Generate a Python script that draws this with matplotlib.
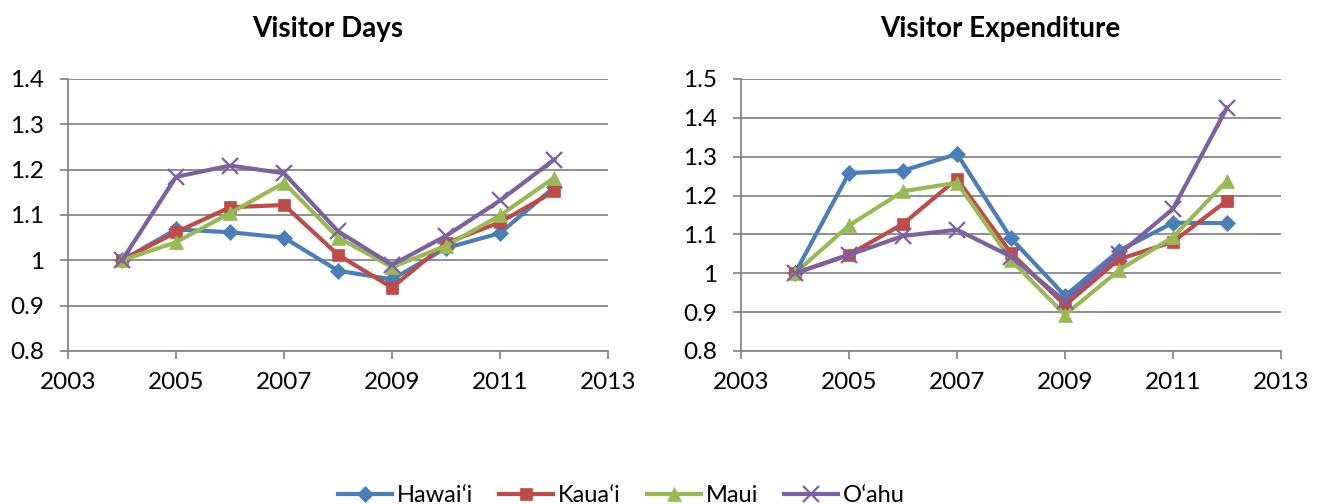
import matplotlib
matplotlib.use("Agg")
import matplotlib.pyplot as plt

plt.rcParams["font.family"] = ["Lato", "DejaVu Sans"]

# ── data ──────────────────────────────────────────────
years = [2004, 2005, 2006, 2007, 2008, 2009, 2010, 2011, 2012]
islands = ["Hawai\u02bbi", "Kaua\u02bbi", "Maui", "O\u02bbahu"]

days_hawaii = [1.0, 1.068, 1.062, 1.050, 0.977, 0.958, 1.027, 1.060, 1.161]
days_kauai  = [1.0, 1.062, 1.117, 1.122, 1.012, 0.940, 1.038, 1.084, 1.152]
days_maui   = [1.0, 1.040, 1.104, 1.171, 1.050, 0.985, 1.032, 1.099, 1.182]
days_oahu   = [1.0, 1.184, 1.209, 1.192, 1.064, 0.990, 1.054, 1.132, 1.222]

exp_hawaii = [1.0, 1.258, 1.264, 1.307, 1.090, 0.942, 1.058, 1.130, 1.129]
exp_kauai  = [1.0, 1.048, 1.127, 1.243, 1.052, 0.918, 1.036, 1.081, 1.187]
exp_maui   = [1.0, 1.123, 1.211, 1.233, 1.034, 0.893, 1.008, 1.093, 1.238]
exp_oahu   = [1.0, 1.047, 1.096, 1.112, 1.043, 0.928, 1.049, 1.166, 1.426]

colors  = ["#4A7EBB", "#BE4B48", "#98B954", "#7D60A0"]
markers = ["D", "s", "^", "x"]
msizes  = [8, 8, 10, 12]

fig = plt.figure(figsize=(13.19, 5.04), dpi=100)
ax1 = fig.add_axes([0.0516, 0.3036, 0.4094, 0.5397])
ax2 = fig.add_axes([0.5618, 0.3036, 0.4094, 0.5397])

panels = [
    (ax1, "Visitor Days", [days_hawaii, days_kauai, days_maui, days_oahu],
     [0.8, 0.9, 1.0, 1.1, 1.2, 1.3, 1.4]),
    (ax2, "Visitor Expenditure", [exp_hawaii, exp_kauai, exp_maui, exp_oahu],
     [0.8, 0.9, 1.0, 1.1, 1.2, 1.3, 1.4, 1.5]),
]

for ax, title, series, yticks in panels:
    for vals, name, c, m, ms in zip(series, islands, colors, markers, msizes):
        ax.plot(years, vals, color=c, marker=m, markersize=ms, linewidth=3,
                markeredgewidth=1.6 if m == "x" else 0.5, markeredgecolor=c,
                label=name, zorder=3)
    ax.set_xlim(2003, 2013)
    ax.set_ylim(yticks[0], yticks[-1])
    ax.set_xticks(range(2003, 2014, 2))
    ax.set_yticks(yticks)
    ax.set_yticklabels(["%g" % v for v in yticks])
    ax.grid(axis="y", color="#878787", linewidth=1.3)
    ax.set_axisbelow(True)
    for s in ["top", "right"]:
        ax.spines[s].set_visible(False)
    for s in ["left", "bottom"]:
        ax.spines[s].set_color("#878787")
        ax.spines[s].set_linewidth(1.3)
    ax.tick_params(axis="both", colors="#878787", labelcolor="black",
                   labelsize=17.5, length=6, width=1.3)
    ax.tick_params(axis="y", pad=11)
    ax.tick_params(axis="x", pad=9)
    ax.set_title(title, fontsize=20, fontweight="bold", pad=30, x=0.48)

handles, labels = ax1.get_legend_handles_labels()
fig.legend(handles, labels, loc="center", bbox_to_anchor=(0.471, 0.016), ncol=4,
           frameon=False, fontsize=17, handlelength=2.3, columnspacing=1.1,
           handletextpad=0.2, borderpad=0)

fig.savefig("out.png", dpi=100)
